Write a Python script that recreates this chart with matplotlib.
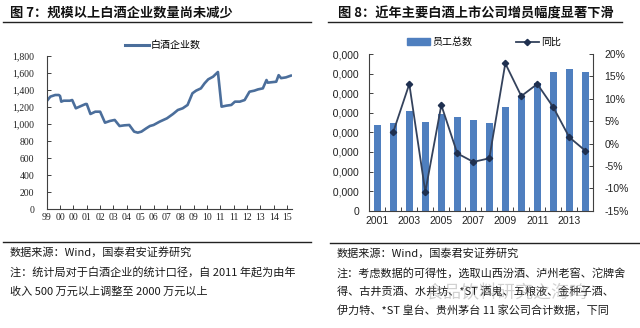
import matplotlib
matplotlib.use('Agg')
import matplotlib.pyplot as plt
from matplotlib.lines import Line2D
from matplotlib.patches import Patch
from matplotlib.transforms import Bbox, TransformedBbox
from matplotlib.ticker import FuncFormatter

plt.rcParams['font.family'] = ['Noto Sans CJK SC', 'DejaVu Sans']

# ---- 图7 data: monthly count of liquor firms, index 0 = Feb 1999
month_idx = [0, 3, 7, 10, 11, 12, 14, 19, 21, 24, 27, 32, 33, 36, 40, 44, 48, 52, 56,
             60, 64, 68, 72, 75, 78, 82, 85, 88, 93, 99, 104, 108, 112, 116, 120, 123,
             127, 130, 133, 137, 141, 144, 148, 152, 155, 159, 163, 167, 171, 174, 178,
             181, 182, 189, 191, 193, 197, 201]
firm_count = [1270, 1323, 1342, 1342, 1330, 1264, 1275, 1275, 1283, 1186, 1205, 1236, 1236,
              1119, 1146, 1146, 1017, 1037, 1049, 978, 986, 990, 912, 900, 912, 951, 978,
              990, 1029, 1068, 1119, 1166, 1186, 1225, 1362, 1393, 1420, 1479, 1526, 1557,
              1612, 1205, 1217, 1225, 1264, 1264, 1283, 1381, 1393, 1408, 1420, 1518, 1487,
              1498, 1575, 1540, 1549, 1569]
month_ticks = list(range(0, 199, 11))
month_labels = ['99', '00', '00', '01', '02', '03', '04', '05', '06', '07', '08', '09',
                '10', '11', '11', '12', '13', '14', '15']

# ---- 图8 data: staff of 11 listed liquor companies
years = list(range(2001, 2015))
staff = [43700, 44900, 50900, 45400, 49400, 48000, 46300, 44600, 52800, 58600,
         65400, 71000, 72200, 70800]
yoy_years = years[1:]
yoy = [2.6, 13.3, -10.8, 8.6, -2.2, -4.1, -3.3, 17.9, 10.6, 13.3, 8.1, 1.4, -1.6]

W, H = 640, 328
fig = plt.figure(figsize=(W / 100, H / 100), dpi=100)
fig.patch.set_facecolor('white')

def fx(px):
    return px / W

def fy(py):
    return (H - py) / H

spine_c = '#404040'
serif = ['Liberation Serif', 'DejaVu Serif']
sans = ['Liberation Sans', 'DejaVu Sans']

# ---------------- left chart
ax1 = fig.add_axes([fx(46.7), fy(209.3), fx(292) - fx(46.7), fy(56) - fy(209.3)])
ax1.plot(month_idx, firm_count, color='#4B6E9B', lw=1.9, solid_joinstyle='round',
         label='白酒企业数')
ax1.set_xlim(0, 202)
ax1.set_ylim(0, 1800)
ax1.set_yticks(range(0, 1801, 200))
ax1.yaxis.set_major_formatter(FuncFormatter(lambda v, p: f'{v:,.0f}'))
ax1.set_xticks(month_ticks)
ax1.set_xticklabels(month_labels)
for s in ['top', 'right']:
    ax1.spines[s].set_visible(False)
for s in ['left', 'bottom']:
    ax1.spines[s].set_color(spine_c)
    ax1.spines[s].set_linewidth(0.8)
ax1.tick_params(axis='both', direction='in', length=3, width=0.7, color=spine_c,
                labelsize=7, labelcolor='#222222')
ax1.tick_params(axis='y', pad=9)
ax1.tick_params(axis='x', pad=3)
for lbl in ax1.get_xticklabels() + ax1.get_yticklabels():
    lbl.set_family(serif)
fig.legend(handles=[Line2D([], [], color='#4B6E9B', lw=2.2)], labels=['白酒企业数'],
           loc='center', bbox_to_anchor=(fx(163), fy(45)), frameon=False,
           fontsize=7.2, handlelength=2.4, handletextpad=0.2)

# ---------------- right chart
ax2 = fig.add_axes([fx(369.3), fy(210.7), fx(593.3) - fx(369.3), fy(54) - fy(210.7)])
ax2.bar(years, staff, width=0.42, color='#4F7FBF', zorder=2)
ax2.set_xlim(2000.5, 2014.5)
ax2.set_ylim(0, 80000)
ax2.set_yticks(range(0, 80001, 10000))
ax2.yaxis.set_major_formatter(FuncFormatter(lambda v, p: f'{v:,.0f}'))
ax2.set_xticks(years[::2])
ax2.set_xticks([y + 0.5 for y in years[:-1]], minor=True)
ax2.tick_params(axis='x', which='major', length=0, pad=4)
ax2.tick_params(axis='x', which='minor', direction='in', length=3, width=0.7, color=spine_c)
ax2.tick_params(axis='y', direction='in', length=3, width=0.7, color=spine_c, pad=7.4)
ax2.tick_params(labelsize=7.5, labelcolor='#222222')
for s in ['top', 'right']:
    ax2.spines[s].set_visible(False)
for s in ['left', 'bottom']:
    ax2.spines[s].set_color(spine_c)
    ax2.spines[s].set_linewidth(0.8)

ax3 = ax2.twinx()
ax3.plot(yoy_years, yoy, color='#34425C', lw=1.3, marker='D', ms=3.2,
         mfc='#1F3050', mec='#1F3050', zorder=3)
ax3.set_ylim(-15, 20)
ax3.set_yticks(range(-15, 21, 5))
ax3.yaxis.set_major_formatter(FuncFormatter(lambda v, p: f'{v:.0f}%'))
ax3.tick_params(axis='y', direction='in', length=3, width=0.7, color=spine_c, pad=8,
                labelsize=7.5, labelcolor='#222222')
for s in ['top', 'left', 'bottom']:
    ax3.spines[s].set_visible(False)
ax3.spines['right'].set_color(spine_c)
ax3.spines['right'].set_linewidth(0.8)

for lbl in (ax2.get_xticklabels() + ax2.get_yticklabels() + ax3.get_yticklabels()):
    lbl.set_family(sans)

# the right panel is cut off at its left edge, hiding the leading digit
panel_clip = TransformedBbox(Bbox([[fx(332.5), 0], [1, 1]]), fig.transFigure)
for lbl in ax2.get_yticklabels():
    lbl.set_clip_box(panel_clip)
    lbl.set_clip_on(True)

fig.legend(handles=[Patch(color='#4F7FBF'),
                    Line2D([], [], color='#34425C', lw=1.3, marker='D', ms=3.2,
                           mfc='#1F3050', mec='#1F3050')],
           labels=['员工总数', '同比'], ncol=2, loc='center',
           bbox_to_anchor=(fx(484), fy(42)), frameon=False, fontsize=7.2,
           handlelength=2.3, handleheight=0.6, handletextpad=0.3, columnspacing=4.3)

# ---------------- titles and rules
fig.text(fx(10), fy(13), '图 7：规模以上白酒企业数量尚未减少', fontsize=9.5,
         fontweight='bold', va='center', ha='left', color='#111111')
fig.text(fx(338), fy(13), '图 8：近年主要白酒上市公司增员幅度显著下滑', fontsize=9.5,
         fontweight='bold', va='center', ha='left', color='#111111')
for x0, x1, y in [(3, 311, 22), (328, 622, 22), (3, 311, 242), (330, 640, 243)]:
    fig.add_artist(Line2D([fx(x0), fx(x1)], [fy(y), fy(y)], color='#222222', lw=1.0))

# ---------------- notes
left_notes = ['数据来源：Wind，国泰君安证券研究',
              '注：统计局对于白酒企业的统计口径，自 2011 年起为由年',
              '收入 500 万元以上调整至 2000 万元以上']
for txt, y in zip(left_notes, [252.7, 273.3, 291.7]):
    fig.text(fx(10), fy(y), txt, fontsize=8, va='center', ha='left', color='#1a1a1a')

right_notes = ['数据来源：Wind，国泰君安证券研究',
               '注：考虑数据的可得性，选取山西汾酒、泸州老窖、沱牌舍',
               '得、古井贡酒、水井坊、*ST 酒鬼、五粮液、金种子酒、',
               '伊力特、*ST 皇台、贵州茅台 11 家公司合计数据，下同']
for txt, y in zip(right_notes, [253, 273, 292, 310]):
    fig.text(fx(337), fy(y), txt, fontsize=8, va='center', ha='left', color='#1a1a1a')

fig.text(fx(425), fy(293), '食品饮料研究之海鸣', fontsize=13, va='center', ha='left',
         color='#9a9a9a', alpha=0.45)

fig.savefig('out.png', dpi=100, facecolor='white')
